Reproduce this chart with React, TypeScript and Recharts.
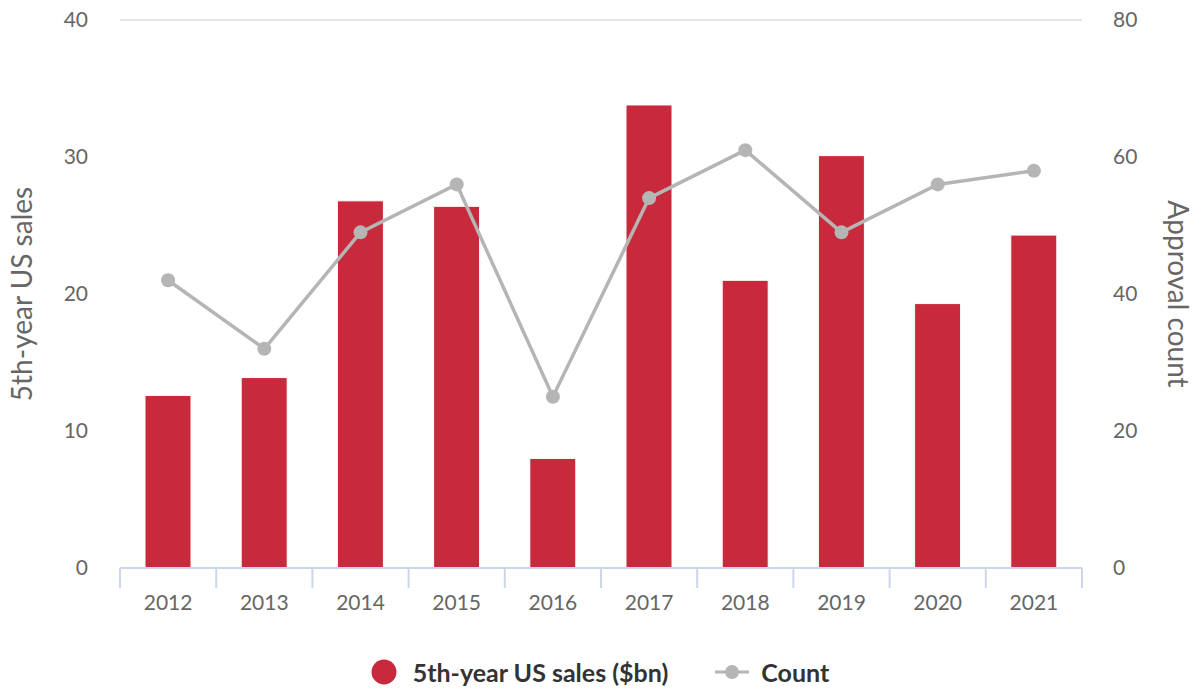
import React from "react";
import {
  ComposedChart,
  Bar,
  Line,
  XAxis,
  YAxis,
  CartesianGrid,
  Legend,
} from "recharts";

const years = ["2012", "2013", "2014", "2015", "2016", "2017", "2018", "2019", "2020", "2021"];
const sales = [12.6, 13.9, 26.8, 26.4, 8.0, 33.8, 21.0, 30.1, 19.3, 24.3];
const counts = [42, 32, 49, 56, 25, 54, 61, 49, 56, 58];
const salesTicks = [0, 10, 20, 30, 40];
const countTicks = [0, 20, 40, 60, 80];

const data = years.map((year, i) => ({ year, sales: sales[i], count: counts[i] }));

const FONT = "Lato, 'Open Sans', sans-serif";
const RED = "#c8293b";
const GREY = "#b5b5b5";
const AXIS = "#ccd6eb";

function XTick(props: any) {
  const { x, y, payload, index } = props;
  const half = payload && payload.offset ? payload.offset : 48;
  return (
    <g>
      <line x1={x - half} x2={x - half} y1={y} y2={y + 20} stroke={AXIS} strokeWidth={2} />
      {index === years.length - 1 && (
        <line x1={x + half} x2={x + half} y1={y} y2={y + 20} stroke={AXIS} strokeWidth={2} />
      )}
      <text x={x} y={y + 33} textAnchor="middle" dominantBaseline="central" fill="#666" fontSize={21} fontFamily={FONT}>
        {payload.value}
      </text>
    </g>
  );
}

function LegendContent() {
  return (
    <div
      style={{
        display: "flex",
        justifyContent: "center",
        alignItems: "center",
        fontFamily: FONT,
        fontWeight: 700,
        fontSize: 25,
        color: "#333",
        height: 40,
      }}
    >
      <svg width={26} height={26} style={{ marginRight: 16 }}>
        <circle cx={13} cy={13} r={12.5} fill={RED} />
      </svg>
      <span style={{ marginRight: 47 }}>5th-year US sales ($bn)</span>
      <svg width={34} height={16} style={{ marginRight: 12 }}>
        <line x1={0} x2={34} y1={8} y2={8} stroke={GREY} strokeWidth={3} />
        <circle cx={17} cy={8} r={7} fill={GREY} />
      </svg>
      <span>Count</span>
    </div>
  );
}

export default function App() {
  return (
    <div style={{ position: "absolute", left: 0, top: 0, width: 1200, height: 692, background: "#fff" }}>
      <ComposedChart
        width={1200}
        height={692}
        data={data}
        margin={{ top: 20, right: 0, left: 0, bottom: 0 }}
      >
        <CartesianGrid vertical={false} stroke="#e6e6e6" strokeWidth={2} />
        <XAxis
          dataKey="year"
          height={84}
          tickLine={false}
          tickSize={0}
          tickMargin={0}
          axisLine={{ stroke: AXIS, strokeWidth: 2 }}
          tick={<XTick />}
          interval={0}
        />
        <YAxis
          yAxisId="left"
          width={120}
          domain={[0, 40]}
          ticks={salesTicks}
          tickLine={false}
          axisLine={false}
          tickSize={0}
          tickMargin={32}
          tick={{ fill: "#666", fontSize: 21, fontFamily: FONT }}
          label={{
            value: "5th-year US sales",
            angle: -90,
            position: "insideLeft",
            offset: 22,
            style: { textAnchor: "middle", fill: "#666", fontSize: 28, fontFamily: FONT },
          }}
        />
        <YAxis
          yAxisId="right"
          orientation="right"
          width={118}
          domain={[0, 80]}
          ticks={countTicks}
          tickLine={false}
          axisLine={false}
          tickSize={0}
          tickMargin={31}
          tick={{ fill: "#666", fontSize: 21, fontFamily: FONT, textAnchor: "start" }}
          label={{
            value: "Approval count",
            angle: 90,
            position: "insideRight",
            offset: 22,
            style: { textAnchor: "middle", fill: "#666", fontSize: 28, fontFamily: FONT },
          }}
        />
        <Legend verticalAlign="bottom" height={40} content={<LegendContent />} />
        <Bar
          yAxisId="left"
          dataKey="sales"
          name="5th-year US sales ($bn)"
          fill={RED}
          stroke="#fff"
          strokeWidth={1}
          barSize={46}
          isAnimationActive={false}
        />
        <Line
          yAxisId="right"
          dataKey="count"
          name="Count"
          stroke={GREY}
          strokeWidth={3.5}
          dot={{ r: 7, fill: GREY, stroke: GREY, strokeWidth: 0 }}
          activeDot={false}
          isAnimationActive={false}
        />
      </ComposedChart>
    </div>
  );
}
